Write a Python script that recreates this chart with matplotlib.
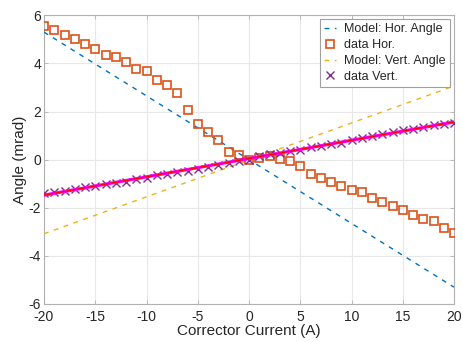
import numpy as np
import matplotlib
matplotlib.use("Agg")
import matplotlib.pyplot as plt

plt.rcParams['font.family'] = ['Liberation Sans', 'DejaVu Sans']
plt.rcParams['axes.unicode_minus'] = False

# Corrector current scan (A)
current = list(range(-20, 21))

# Measured horizontal angle (mrad)
data_hor = [5.55, 5.37, 5.19, 5.00, 4.82, 4.60, 4.36, 4.26, 4.05, 3.78,
            3.69, 3.29, 3.12, 2.75, 2.08, 1.50, 1.17, 0.80, 0.32, 0.19,
            0.00, 0.05, 0.15, 0.01, -0.04, -0.28, -0.58, -0.75, -0.93, -1.11,
            -1.28, -1.36, -1.60, -1.77, -1.91, -2.10, -2.29, -2.46, -2.57, -2.85,
            -3.04]

# Measured vertical angle (mrad)
data_vert = [-1.38, -1.36, -1.29, -1.20, -1.12, -1.08, -1.00, -0.95, -0.92, -0.80,
             -0.75, -0.65, -0.61, -0.53, -0.47, -0.37, -0.31, -0.22, -0.14, -0.06,
             -0.02, 0.15, 0.22, 0.27, 0.34, 0.42, 0.52, 0.57, 0.66, 0.70,
             0.80, 0.92, 1.00, 1.05, 1.14, 1.24, 1.27, 1.37, 1.42, 1.49,
             1.53]

# Model predictions at the ends of the scan (mrad)
model_current = [-20, 20]
model_hor = [5.3, -5.3]
model_vert = [-3.08, 3.06]

c_blue = '#0072BD'
c_orange = '#D95319'
c_yellow = '#EDB120'
c_purple = '#7E2F8E'

fig = plt.figure(figsize=(4.63, 3.42), dpi=100)
ax = fig.add_axes([44/463, 1-304/342, 410/463, 288.7/342])

x = np.array(current, dtype=float)
fit = np.polyfit(x, np.array(data_vert), 1)
fit_y = np.polyval(fit, x)

ax.plot(model_current, model_hor, '--', color=c_blue, lw=1.0, dashes=(3.5, 4),
        label='Model: Hor. Angle', zorder=3)
ax.plot(current, data_hor, 's', color=c_orange, mfc='none', ms=6.3, mew=1.2,
        label='data Hor.', zorder=4)
ax.plot(model_current, model_vert, '--', color=c_yellow, lw=1.0, dashes=(3.5, 4),
        label='Model: Vert. Angle', zorder=3)
ax.plot(current, data_vert, 'x', color=c_purple, ms=6, mew=1.0,
        label='data Vert.', zorder=4)
ax.plot(x, fit_y, '-', color='#FF00FF', lw=2.3, zorder=5, label='_nolegend_')
ax.plot(x, fit_y, '-', color='#FF0000', lw=0.9, zorder=6, label='_nolegend_')

ax.set_xlim(-20, 20)
ax.set_ylim(-6, 6)
ax.set_xticks(range(-20, 21, 5))
ax.set_yticks(range(-6, 7, 2))
ax.grid(True, color='#e8e8e8', lw=0.8)
ax.set_axisbelow(True)
for s in ax.spines.values():
    s.set_color('#b0b0b0')
    s.set_linewidth(0.8)
ax.tick_params(direction='in', length=3, width=0.6, color='#b0b0b0',
               labelcolor='#262626', labelsize=10, top=True, right=True)
ax.tick_params(axis='x', pad=4.5)
ax.tick_params(axis='y', pad=2)
ax.set_xlabel('Corrector Current (A)', fontsize=11, color='#262626', labelpad=0)
ax.set_ylabel('Angle (mrad)', fontsize=11, color='#262626', labelpad=1)

leg = ax.legend(loc='upper right', fontsize=9, handlelength=0.9, handletextpad=0.7,
                borderpad=0.35, labelspacing=0.3, fancybox=False, framealpha=1,
                borderaxespad=0.3)
leg.get_frame().set_edgecolor('#a0a0a0')
leg.get_frame().set_linewidth(0.8)
for t in leg.get_texts():
    t.set_color('#262626')

fig.savefig('out.png', dpi=100)
